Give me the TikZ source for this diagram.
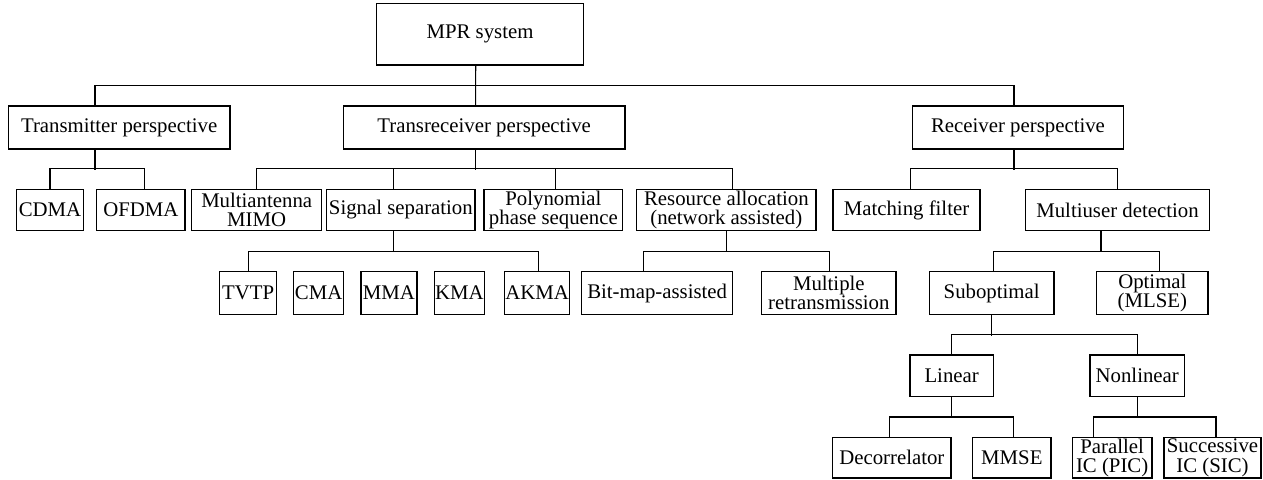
\documentclass[tikz,border=0pt]{standalone}
\usepackage{fontspec}
\setmainfont{Liberation Serif}
\tikzset{
  box/.style={draw=black, line width=1.1pt, inner sep=0pt, align=center,
    font=\fontsize{20.8}{19.5}\selectfont, text=black},
  conn/.style={line width=1.1pt, draw=black}
}
\newcommand{\bx}[6]{\node[box,minimum width={(#3-#2)*1pt},minimum height={(#5-#4)*1pt}] (#1) at ({(#2+#3)/2},{(#4+#5)/2}) {#6};}
\begin{document}
\begin{tikzpicture}[x=1pt,y=-1pt]
\useasboundingbox[fill=white] (0,0) rectangle (1263,479);
% row 0
\bx{mpr}{376.7}{583.3}{3.3}{65}{MPR system}
% row 1
\bx{tp}{8.3}{230}{106}{149}{Transmitter perspective}
\bx{trp}{343.3}{625}{106}{149}{Transreceiver perspective}
\bx{rp}{912.7}{1123.3}{106}{149}{Receiver perspective}
% row 2
\bx{cdma}{16.7}{83.3}{189.3}{230.7}{CDMA}
\bx{ofdma}{96.7}{185}{189.3}{230.7}{OFDMA}
\bx{mimo}{191.7}{321.7}{189.3}{230.7}{Multiantenna\\MIMO}
\bx{sigsep}{326.7}{475}{189.3}{230.7}{Signal separation}
\bx{poly}{484}{622.7}{189.3}{230.7}{Polynomial\\phase sequence}
\bx{res}{636.7}{816}{189.3}{230.7}{Resource allocation\\(network assisted)}
\bx{mf}{833}{980}{189.3}{230.7}{Matching filter}
\bx{mud}{1025.7}{1209.3}{189.3}{230.7}{Multiuser detection}
% row 3
\bx{tvtp}{219.6}{276.8}{271.7}{314.3}{TVTP}
\bx{cma}{293.6}{343.6}{271.7}{314.3}{CMA}
\bx{mma}{361}{417}{271.7}{314.3}{MMA}
\bx{kma}{434.6}{484.3}{271.7}{314.3}{KMA}
\bx{akma}{504.6}{569.6}{271.7}{314.3}{AKMA}
\bx{bitmap}{581.7}{732.7}{271.7}{314.3}{Bit-map-assisted}
\bx{multi}{761.7}{896}{271.7}{314.3}{Multiple\\retransmission}
\bx{subopt}{929.3}{1054}{271.7}{314.3}{Suboptimal}
\bx{optimal}{1096.7}{1208}{271.7}{314.3}{Optimal\\(MLSE)}
% row 4
\bx{linear}{910}{993.3}{355}{396.7}{Linear}
\bx{nonlinear}{1090}{1184.5}{355}{396.7}{Nonlinear}
% row 5
\bx{decor}{832.7}{951}{437.5}{478}{Decorrelator}
\bx{mmse}{972.7}{1051}{437.5}{478}{MMSE}
\bx{pic}{1072.3}{1152}{437.5}{478}{Parallel\\IC (PIC)}
\bx{sic}{1164}{1261}{437.5}{478}{Successive\\IC (SIC)}
% connectors level 0
\draw[conn] ([xshift=-4.3pt]mpr.south) -- ([xshift=-8.5pt]trp.north);
\draw[conn] ([xshift=-24.2pt]tp.north) -- ++(0,-20) -| ([xshift=-4pt]rp.north);
% level 1
\draw[conn] ([xshift=-24.2pt]tp.south) -- ++(0,20);
\draw[conn] (cdma.north) -- ++(0,-20) -| ([xshift=4pt]ofdma.north);
\draw[conn] ([xshift=-8.5pt]trp.south) -- ++(0,20);
\draw[conn] (mimo.north) -- ++(0,-20) -| ([xshift=6.4pt]res.north);
\draw[conn] ([xshift=-7.5pt]sigsep.north) -- ++(0,-20);
\draw[conn] ([xshift=1.7pt]poly.north) -- ++(0,-20);
\draw[conn] ([xshift=-4pt]rp.south) -- ++(0,20);
\draw[conn] ([xshift=4pt]mf.north) -- ++(0,-20) -| (mud.north);
% level 2
\draw[conn] ([xshift=-7.5pt]sigsep.south) -- ++(0,21);
\draw[conn] (tvtp.north) -- ++(0,-20) -| ([xshift=1pt]akma.north);
\draw[conn] (res.south) -- ++(0,21);
\draw[conn] ([xshift=-13.7pt]bitmap.north) -- ++(0,-20) -| ([xshift=1pt]multi.north);
\draw[conn] ([xshift=-16.5pt]mud.south) -- ++(0,21);
\draw[conn] ([xshift=2pt]subopt.north) -- ++(0,-20) -| ([xshift=7pt]optimal.north);
% level 3
\draw[conn] (subopt.south) -- ++(0,21);
\draw[conn] (linear.north) -- ++(0,-20) -| (nonlinear.north);
% level 4
\draw[conn] (linear.south) -- ++(0,21);
\draw[conn] ([xshift=-2.5pt]decor.north) -- ++(0,-20) -| ([xshift=2pt]mmse.north);
\draw[conn] (nonlinear.south) -- ++(0,21);
\draw[conn] ([xshift=-19pt]pic.north) -- ++(0,-20) -| ([xshift=3.5pt]sic.north);
\end{tikzpicture}
\end{document}
